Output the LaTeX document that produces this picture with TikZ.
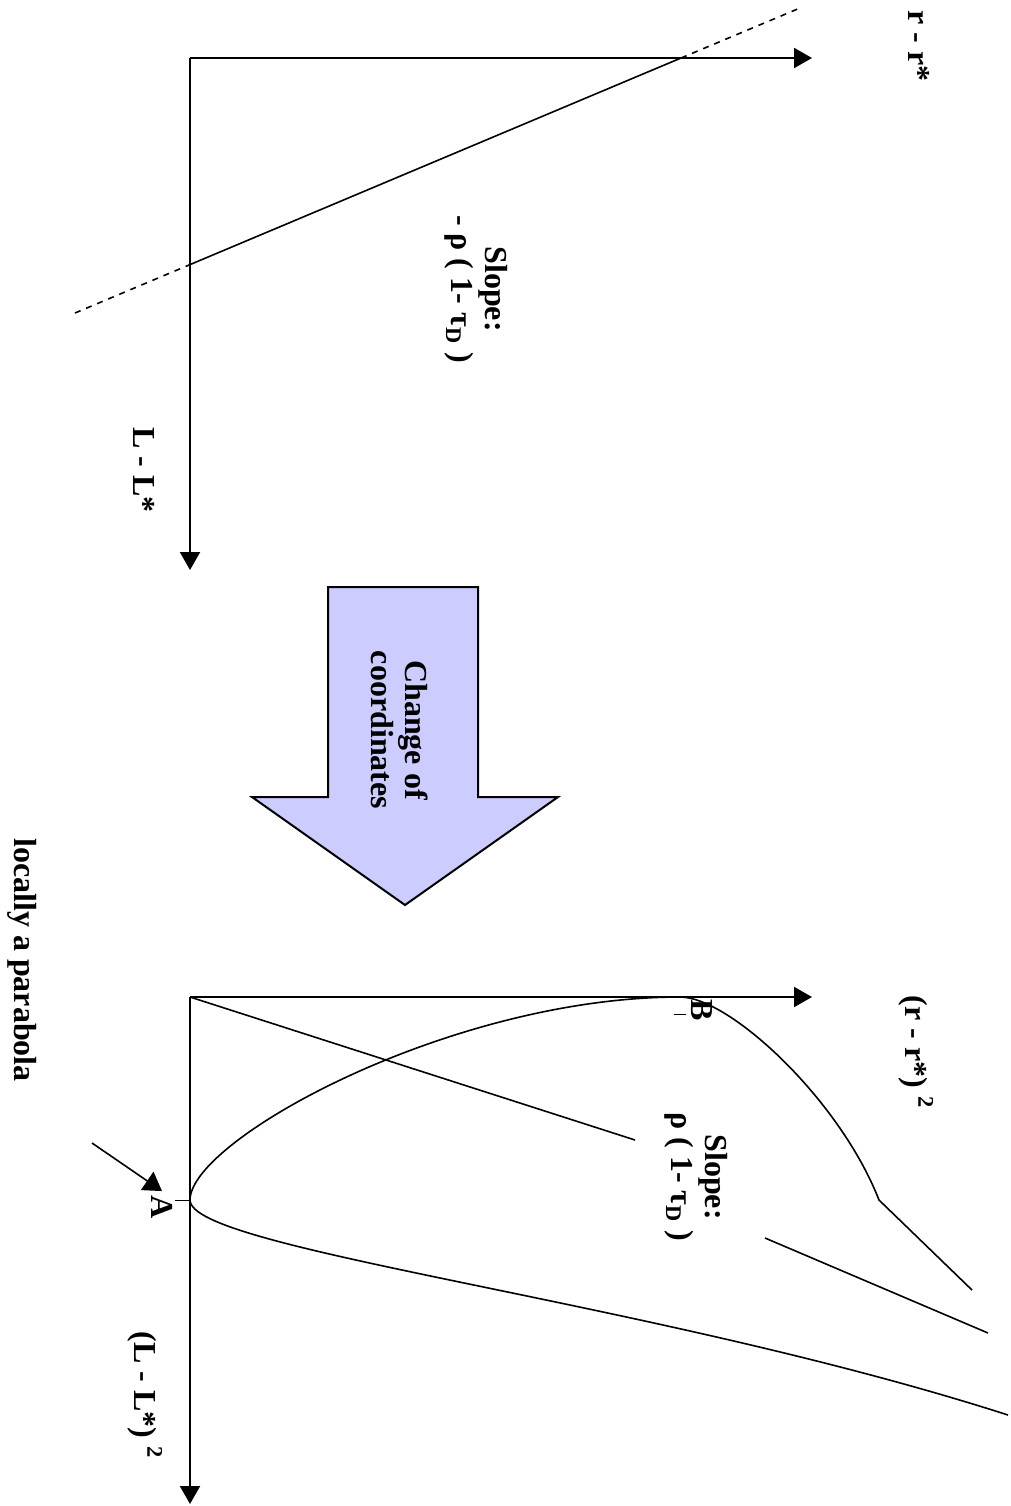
\documentclass[tikz,border=0pt]{standalone}
\usepackage{fontspec}
\setmainfont{Liberation Serif}
\usetikzlibrary{arrows.meta}
\definecolor{blocklav}{RGB}{204,204,255}
\tikzset{
  axis/.style={line width=1pt, -{Triangle[length=9pt,width=10pt]}},
  lbl/.style={rotate=-90, align=center, inner sep=2pt},
  crv/.style={line width=0.8pt},
}

\begin{document}
\begin{tikzpicture}[x=0.5pt, y=-0.5pt, every node/.style={font=\fontsize{16}{17}\selectfont\bfseries}]
  \useasboundingbox (0,0) rectangle (1011,1506);

  % top panel: axes
  \coordinate (o1) at (190,58);
  \coordinate (r1) at (812,58);
  \coordinate (l1) at (190,570);
  \draw[axis] (o1) -- (r1);
  \draw[axis] (o1) -- (l1);
  \node[lbl] (r1lbl) at (919,46) {r - r*};
  \node[lbl] (l1lbl) at (144,470) {L - L*};

  % straight line, dashed past the axes
  \coordinate (d1) at (75,313);
  \coordinate (s1) at (190,264.6);
  \coordinate (s2) at (681,58);
  \coordinate (d2) at (800,8);
  \draw[crv] (s1) -- (s2);
  \draw[crv, dashed] (d1) -- (s1) (s2) -- (d2);
  \node[lbl] (slope1) at (476,289) {Slope:\\- ρ ( 1- τ\textsubscript{D} )};

  % change of coordinates
  \draw[fill=blocklav, line width=1pt] (328,587) -- (478,587) -- (478,797) -- (558,797)
    -- (405,905) -- (252,797) -- (328,797) -- cycle;
  \node[lbl] (chg) at (400,730) {Change of\\coordinates};

  % bottom panel: axes
  \coordinate (o2) at (190,997);
  \coordinate (r2) at (812,997);
  \coordinate (l2) at (190,1504);
  \draw[axis] (o2) -- (r2);
  \draw[axis] (o2) -- (l2);
  \node[lbl] (r2lbl) at (916,1052) {(r - r*) \textsuperscript{2}};
  \node[lbl] (l2lbl) at (145,1395) {(L - L*) \textsuperscript{2}};

  % points A and B
  \coordinate (ptA) at (190,1200);
  \coordinate (ptB) at (680,997);
  \coordinate (tickA) at (175,1200);
  \coordinate (tickB1) at (674,1014);
  \coordinate (tickB2) at (686,1014);
  \draw (ptA) -- (tickA);
  \draw (tickB1) -- (tickB2);
  \node[lbl] (lblA) at (162,1207) {A};
  \node[lbl] (lblB) at (702,1010) {B};

  % curves
  \draw[crv] (o2) -- (635,1140);
  \draw[crv] (765,1238) -- (988,1333);
  \draw[crv] (ptA) .. controls (190,1140) and (450,997) .. (ptB)
    .. controls (730,997) and (840,1100) .. (879,1200) -- (972,1290);
  \draw[crv] (ptA) .. controls (190,1250) and (650,1300) .. (1008,1415);
  \node[lbl] (slope2) at (696,1177) {Slope:\\ρ ( 1- τ\textsubscript{D} )};

  % pointer to A
  \coordinate (parafrom) at (92,1143);
  \node[lbl] (para) at (22,960) {locally a parabola};
  \draw[line width=0.8pt, -{Triangle[length=9pt,width=11pt]}] (parafrom) -- (lblA.west);
\end{tikzpicture}
\end{document}
